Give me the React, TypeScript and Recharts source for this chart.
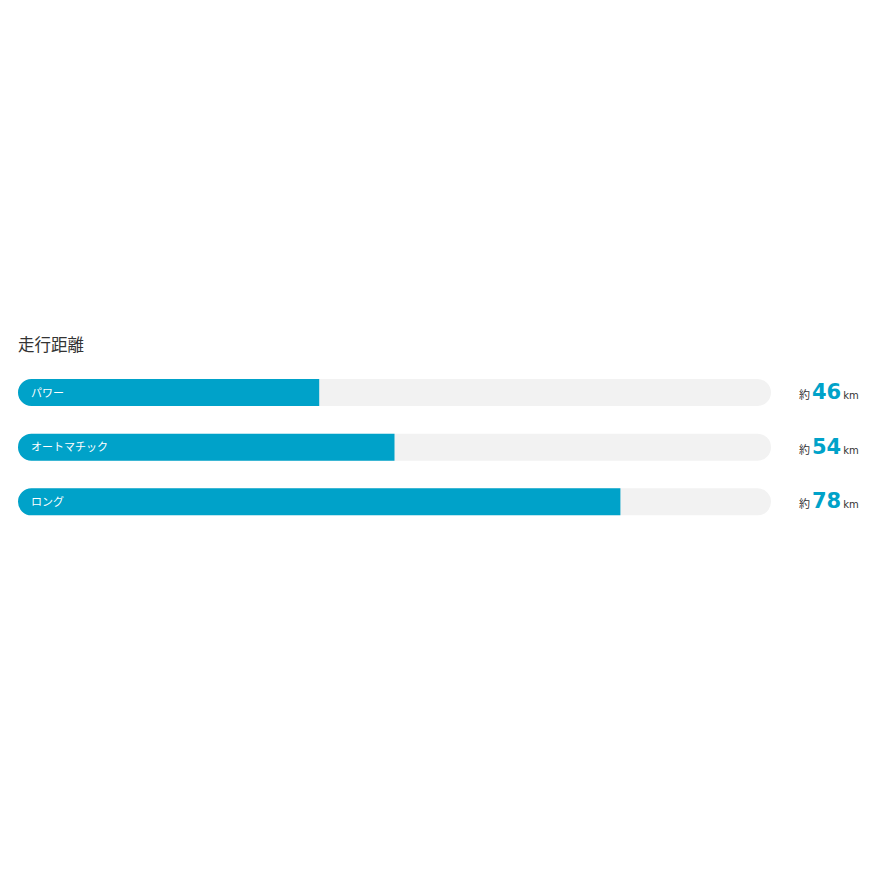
import React from 'react';
import { BarChart, Bar, XAxis, YAxis, LabelList } from 'recharts';

const title = '走行距離';
const modes = ['パワー', 'オートマチック', 'ロング'];
const distancesKm = [46, 54, 78];
const fillPercent = [40, 50, 80];
const prefix = '約';
const unit = 'km';

const data = modes.map((m, i) => ({ mode: m, pct: fillPercent[i], km: distancesKm[i] }));

const FONT = '"Noto Sans CJK JP", "Noto Sans", sans-serif';
const NUMFONT = '"DejaVu Sans", "Noto Sans", sans-serif';
const BLUE = '#00a2c9';

const InsideLabel = (props: any) => {
  const { x, y, height, value } = props;
  return (
    <text x={x + 13} y={y + height / 2 + 4} fill="#ffffff" fontSize={11} fontFamily={FONT}>
      {value}
    </text>
  );
};

const makeRightLabel = (plotRight: number) => (props: any) => {
  const { y, height, value } = props;
  return (
    <text x={plotRight + 28} y={y + height / 2 + 6.5}>
      <tspan fontSize={11} fill="#333333" fontFamily={FONT}>{prefix}</tspan>
      <tspan dx={2} fontSize={21} fontWeight={700} fill={BLUE} fontFamily={NUMFONT}>{value}</tspan>
      <tspan dx={2} fontSize={10} fill="#333333" fontFamily={NUMFONT}>{unit}</tspan>
    </text>
  );
};

export default function App() {
  const W = 858;
  const H = 858;
  const margin = { top: 357, right: 95, bottom: 337, left: 10 };
  const plotRight = W - margin.right;
  return (
    <div style={{ position: 'relative', width: W, height: H, fontFamily: FONT }}>
      <div
        style={{
          position: 'absolute',
          left: 10,
          top: 324,
          fontSize: 16.5,
          color: '#333333',
          fontWeight: 400,
          lineHeight: '24px',
        }}
      >
        {title}
      </div>
      <BarChart width={W} height={H} data={data} layout="vertical" margin={margin} barCategoryGap={27.5}>
        <XAxis type="number" domain={[0, 100]} hide />
        <YAxis type="category" dataKey="mode" hide />
        <Bar
          dataKey="pct"
          fill={BLUE}
          barSize={27}
          radius={[13.5, 0, 0, 13.5]}
          background={{ fill: '#f2f2f2', radius: 13.5 }}
          isAnimationActive={false}
        >
          <LabelList dataKey="mode" content={InsideLabel} />
          <LabelList dataKey="km" content={makeRightLabel(plotRight)} />
        </Bar>
      </BarChart>
    </div>
  );
}
